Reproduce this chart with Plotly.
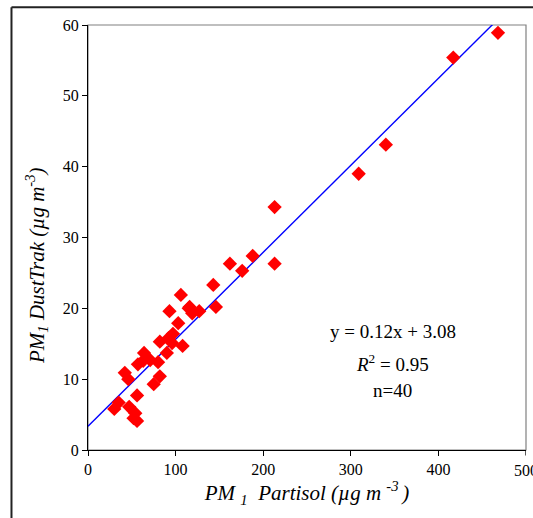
import plotly.graph_objects as go

partisol = [468, 417, 340, 309, 213, 213, 188, 162, 176, 143, 106, 146, 116, 127, 119,
            93, 103, 97, 92, 82, 108, 90, 64, 63, 71, 80, 57, 42, 46, 82, 75, 56,
            35, 30, 47, 54, 52, 56, 96, 115]
dusttrak = [58.9, 55.4, 43.1, 39.0, 34.3, 26.3, 27.4, 26.3, 25.3, 23.3, 21.9, 20.2, 20.2, 19.6, 19.3,
            19.6, 17.9, 16.4, 15.8, 15.3, 14.7, 13.7, 13.7, 12.6, 12.7, 12.4, 12.1, 10.9, 10.0, 10.4, 9.3, 7.7,
            6.7, 5.8, 6.1, 5.2, 4.5, 4.1, 15.1, 20.0]
x_ticks = [0, 100, 200, 300, 400, 500]
y_ticks = [0, 10, 20, 30, 40, 50, 60]
fit_slope = 0.1228
fit_intercept = 3.35
fit_x = [0, 500]
fit_y = [fit_intercept + fit_slope * v for v in fit_x]

ff = "Liberation Serif"

fig = go.Figure()
fig.add_trace(go.Scatter(x=fit_x, y=fit_y, mode="lines",
                         line=dict(color="#0000FF", width=1.4), hoverinfo="skip"))
fig.add_trace(go.Scatter(x=partisol, y=dusttrak, mode="markers",
                         marker=dict(symbol="diamond", size=11, color="#FF0000",
                                     line=dict(width=0)), cliponaxis=False))

fig.update_layout(
    width=533, height=518,
    margin=dict(l=88, r=7, t=25, b=68),
    paper_bgcolor="white", plot_bgcolor="white",
    showlegend=False,
    font=dict(family=ff, size=16, color="black"),
    xaxis=dict(range=[0, 500], tickvals=x_ticks[:-1],
               showgrid=False, zeroline=False, showline=True, linecolor="black", linewidth=1.3,
               ticks="outside", ticklen=5, tickcolor="black",
               tickfont=dict(size=16, family=ff, color="black"),
               title=dict(text="<i>PM <sub>1</sub>  Partisol (µg m <sup>-3 </sup>)</i>",
                          font=dict(size=21, family=ff), standoff=2)),
    yaxis=dict(range=[0, 60], tickvals=y_ticks,
               showgrid=False, zeroline=False, showline=True, linecolor="black", linewidth=1.3,
               ticks="outside", ticklen=5, tickcolor="black",
               tickfont=dict(size=16, family=ff, color="black")),
    shapes=[
        dict(type="rect", xref="paper", yref="paper", x0=0, y0=0, x1=1, y1=1,
             line=dict(color="#808080", width=1.2), layer="below"),
        dict(type="line", xref="x", yref="paper", x0=500, y0=0, x1=500, y1=-0.013,
             line=dict(color="black", width=1.3)),
        dict(type="line", xref="paper", yref="paper", x0=-0.1747, y0=1.0416, x1=1.02, y1=1.0416,
             line=dict(color="#222222", width=2)),
        dict(type="line", xref="paper", yref="paper", x0=-0.1747, y0=1.0416, x1=-0.1747, y1=-0.17,
             line=dict(color="#222222", width=2)),
    ],
    annotations=[
        dict(x=x_ticks[-1], y=-0.0235, xref="x", yref="paper", showarrow=False,
             xanchor="center", yanchor="top",
             text=str(x_ticks[-1]), font=dict(size=16, family=ff)),
        dict(x=-0.119, y=0.435, xref="paper", yref="paper", showarrow=False, textangle=-90,
             xanchor="center", yanchor="middle",
             text="<i>PM<sub>1</sub> DustTrak (µg m<sup>-3</sup>)</i>", font=dict(size=21, family=ff)),
        dict(x=0.696, y=0.278, xref="paper", yref="paper", showarrow=False,
             xanchor="center", yanchor="middle",
             text="y = 0.12x + 3.08", font=dict(size=19, family=ff)),
        dict(x=0.696, y=0.205, xref="paper", yref="paper", showarrow=False,
             xanchor="center", yanchor="middle",
             text="<i>R</i><sup>2</sup> = 0.95", font=dict(size=19, family=ff)),
        dict(x=0.696, y=0.141, xref="paper", yref="paper", showarrow=False,
             xanchor="center", yanchor="middle",
             text="n=40", font=dict(size=19, family=ff)),
    ],
)

fig.write_html("out.html")
